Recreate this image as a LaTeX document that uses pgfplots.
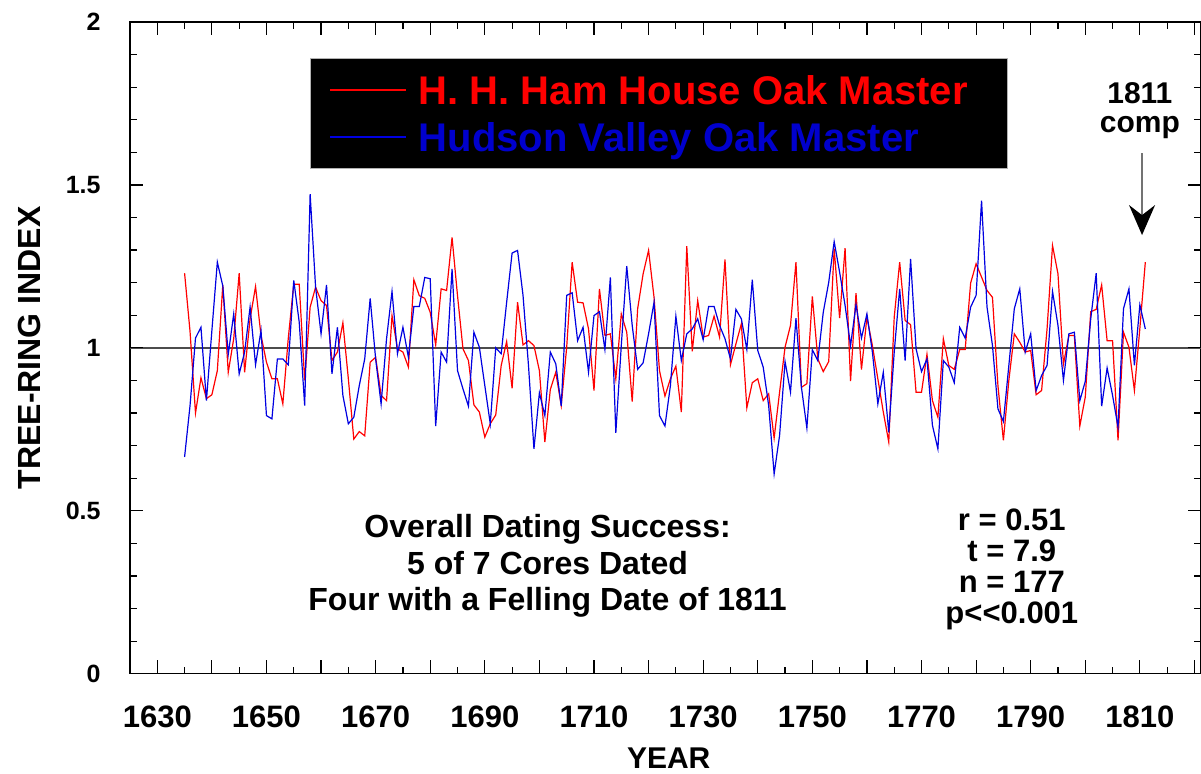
\documentclass[border=0pt]{standalone}
\usepackage{pgfplots}
\pgfplotsset{compat=1.18}
\usepackage{pgfplotstable}
\usetikzlibrary{arrows.meta}
\usepackage{fontspec}
\setmainfont{Liberation Sans}
\definecolor{lineblue}{RGB}{0,0,225}
\definecolor{textblue}{RGB}{0,0,205}
\definecolor{linered}{RGB}{255,0,0}

\pgfplotstableread{
year red blue
1635 1.229 0.665
1636 1.050 0.823
1637 0.800 1.030
1638 0.908 1.063
1639 0.844 0.838
1640 0.856 1.053
1641 0.930 1.263
1642 1.193 1.190
1643 0.925 0.980
1644 1.028 1.104
1645 1.229 0.920
1646 0.925 0.987
1647 1.089 1.125
1648 1.188 0.948
1649 1.038 1.053
1650 0.956 0.792
1651 0.905 0.782
1652 0.905 0.966
1653 0.828 0.966
1654 1.030 0.948
1655 1.195 1.207
1656 1.195 1.079
1657 0.900 0.823
1658 1.125 1.472
1659 1.186 1.186
1660 1.145 1.043
1661 1.130 1.193
1662 0.961 0.920
1663 0.987 1.063
1664 1.077 0.854
1665 0.905 0.767
1666 0.720 0.787
1667 0.743 0.884
1668 0.730 0.966
1669 0.956 1.152
1670 0.971 0.966
1671 0.854 0.828
1672 0.838 1.028
1673 1.099 1.173
1674 0.997 0.982
1675 0.987 1.063
1676 0.941 0.971
1677 1.209 1.127
1678 1.160 1.127
1679 1.152 1.216
1680 1.109 1.212
1681 1.009 0.760
1682 1.181 0.987
1683 1.176 0.956
1684 1.339 1.242
1685 1.160 0.930
1686 0.997 0.874
1687 0.961 0.821
1688 0.825 1.048
1689 0.803 1.002
1690 0.726 0.884
1691 0.767 0.767
1692 0.794 1.000
1693 0.946 0.982
1694 1.019 1.140
1695 0.876 1.291
1696 1.140 1.299
1697 1.009 1.161
1698 1.022 0.946
1699 1.007 0.690
1700 0.930 0.862
1701 0.711 0.792
1702 0.872 0.987
1703 0.925 0.951
1704 0.823 0.821
1705 1.002 1.161
1706 1.263 1.169
1707 1.140 1.022
1708 1.138 1.063
1709 1.058 0.925
1710 0.869 1.099
1711 1.181 1.111
1712 1.038 0.995
1713 1.043 1.216
1714 0.905 0.739
1715 1.104 1.007
1716 1.048 1.251
1717 0.835 1.069
1718 1.120 0.934
1719 1.227 0.954
1720 1.299 1.043
1721 1.155 1.140
1722 0.930 0.792
1723 0.852 0.760
1724 0.905 0.884
1725 0.944 1.097
1726 0.803 0.961
1727 1.312 1.043
1728 0.989 1.058
1729 1.145 1.089
1730 1.033 1.025
1731 1.038 1.127
1732 1.097 1.127
1733 1.033 1.069
1734 1.271 1.028
1735 0.948 0.966
1736 1.012 1.118
1737 1.074 1.089
1738 0.816 0.995
1739 0.893 1.209
1740 0.905 0.992
1741 0.838 0.941
1742 0.859 0.823
1743 0.723 0.613
1744 0.864 0.731
1745 1.002 0.958
1746 1.069 0.864
1747 1.263 1.091
1748 0.879 0.879
1749 0.890 0.754
1750 1.158 0.994
1751 0.966 0.961
1752 0.927 1.109
1753 0.958 1.201
1754 1.304 1.326
1755 1.091 1.232
1756 1.306 1.130
1757 0.898 1.007
1758 1.168 1.132
1759 0.933 1.030
1760 1.094 1.104
1761 1.007 0.987
1762 0.905 0.828
1763 0.803 0.925
1764 0.711 0.741
1765 1.094 0.987
1766 1.263 1.181
1767 1.084 0.961
1768 1.071 1.273
1769 0.864 0.997
1770 0.864 0.927
1771 0.980 0.966
1772 0.838 0.762
1773 0.787 0.690
1774 1.028 0.961
1775 0.946 0.941
1776 0.934 0.893
1777 0.995 1.063
1778 0.995 1.030
1779 1.199 1.125
1780 1.258 1.161
1781 1.217 1.452
1782 1.176 1.125
1783 1.155 1.007
1784 0.884 0.813
1785 0.716 0.774
1786 0.900 0.946
1787 1.043 1.120
1788 1.017 1.181
1789 0.987 0.987
1790 0.992 1.043
1791 0.856 0.869
1792 0.869 0.915
1793 1.058 0.946
1794 1.314 1.173
1795 1.227 1.069
1796 0.950 0.900
1797 1.038 1.043
1798 1.038 1.048
1799 0.760 0.838
1800 0.849 0.897
1801 1.111 1.089
1802 1.118 1.229
1803 1.193 0.821
1804 1.022 0.938
1805 1.022 0.854
1806 0.716 0.757
1807 1.048 1.120
1808 1.002 1.181
1809 0.869 0.946
1810 1.060 1.132
1811 1.263 1.058
}\ringdata

\begin{document}
\begin{tikzpicture}
\begin{axis}[
  scale only axis,
  width=535.5pt, height=325.85pt,
  xmin=1625, xmax=1821.2,
  ymin=0, ymax=2,
  axis line style={black, line width=0.6pt},
  every tick/.style={black, line width=0.6pt},
  major tick length=6.7pt, minor tick length=3.4pt,
  xtick={1630,1640,...,1820},
  xticklabels={1630,,1650,,1670,,1690,,1710,,1730,,1750,,1770,,1790,,1810,},
  minor x tick num=1,
  ytick={0,0.5,1,1.5,2},
  yticklabels={0,0.5,1,1.5,2},
  minor y tick num=4,
  extra y ticks={1},
  extra y tick labels={},
  extra y tick style={grid=major, major grid style={black!70, line width=0.7pt}},
  /pgf/number format/assume math mode=true,
  xticklabel style={font=\fontsize{15.5}{18}\selectfont\bfseries, anchor=base, inner sep=0pt, yshift=-27pt},
  yticklabel style={font=\fontsize{12.5}{15}\selectfont\bfseries, anchor=east, inner sep=0pt, xshift=-14.5pt},
  xlabel={YEAR},
  xlabel style={font=\fontsize{15}{18}\selectfont\bfseries, at={(axis description cs:0.503,0)}, anchor=base, inner sep=0pt, yshift=-47.5pt},
  ylabel={TREE-RING INDEX},
  ylabel style={font=\fontsize{16}{19}\selectfont\bfseries, at={(axis description cs:-0.0941,0.5)}, anchor=center, inner sep=0pt},
  legend cell align=left,
  legend image code/.code={\draw[#1] (0pt,0pt) -- (38pt,0pt);},
  legend style={
    at={(axis description cs:0.168,0.9448)}, anchor=north west,
    fill=black, draw=gray!60, line width=0.6pt,
    inner xsep=9.5pt, inner ysep=8.5pt,
    row sep=9pt,
    font=\fontsize{20}{24}\selectfont\bfseries,
    nodes={inner sep=0pt, text depth=0pt},
    /tikz/every odd column/.append style={column sep=6pt},
  },
]
\addplot[linered, line width=0.6pt] table[x=year, y=red] {\ringdata};
\addlegendentry{\textcolor{linered}{H. H. Ham House Oak Master}\hspace*{10.5pt}}
\addplot[lineblue, line width=0.6pt] table[x=year, y=blue] {\ringdata};
\addlegendentry{\textcolor{textblue}{Hudson Valley Oak Master}}

\node[align=center, anchor=north, inner sep=0pt, font=\fontsize{16}{18.25}\selectfont\bfseries]
  at (axis cs:1701.5,0.49) {Overall Dating Success:\\5 of 7 Cores Dated\\Four with a Felling Date of 1811};
\node[align=center, anchor=north, inner sep=0pt, font=\fontsize{15.5}{15.5}\selectfont\bfseries]
  at (axis cs:1786.55,0.507) {r = 0.51\\t = 7.9\\n = 177\\p<\kern0pt<\kern0pt0.001};
\node[align=center, anchor=north, inner sep=0pt, font=\fontsize{15}{14.5}\selectfont\bfseries]
  at (axis cs:1810.0,1.816) {1811\\comp};
\draw[black!55, line width=0.75pt, -{Stealth[black, length=15pt, width=13pt, inset=5pt]}]
  (axis cs:1810.4,1.597) -- (axis cs:1810.4,1.346);
\end{axis}
\pgfresetboundingbox
\path[use as bounding box] (-65pt,-50.15pt) rectangle (535.5pt,336.85pt);
\end{tikzpicture}
\end{document}
